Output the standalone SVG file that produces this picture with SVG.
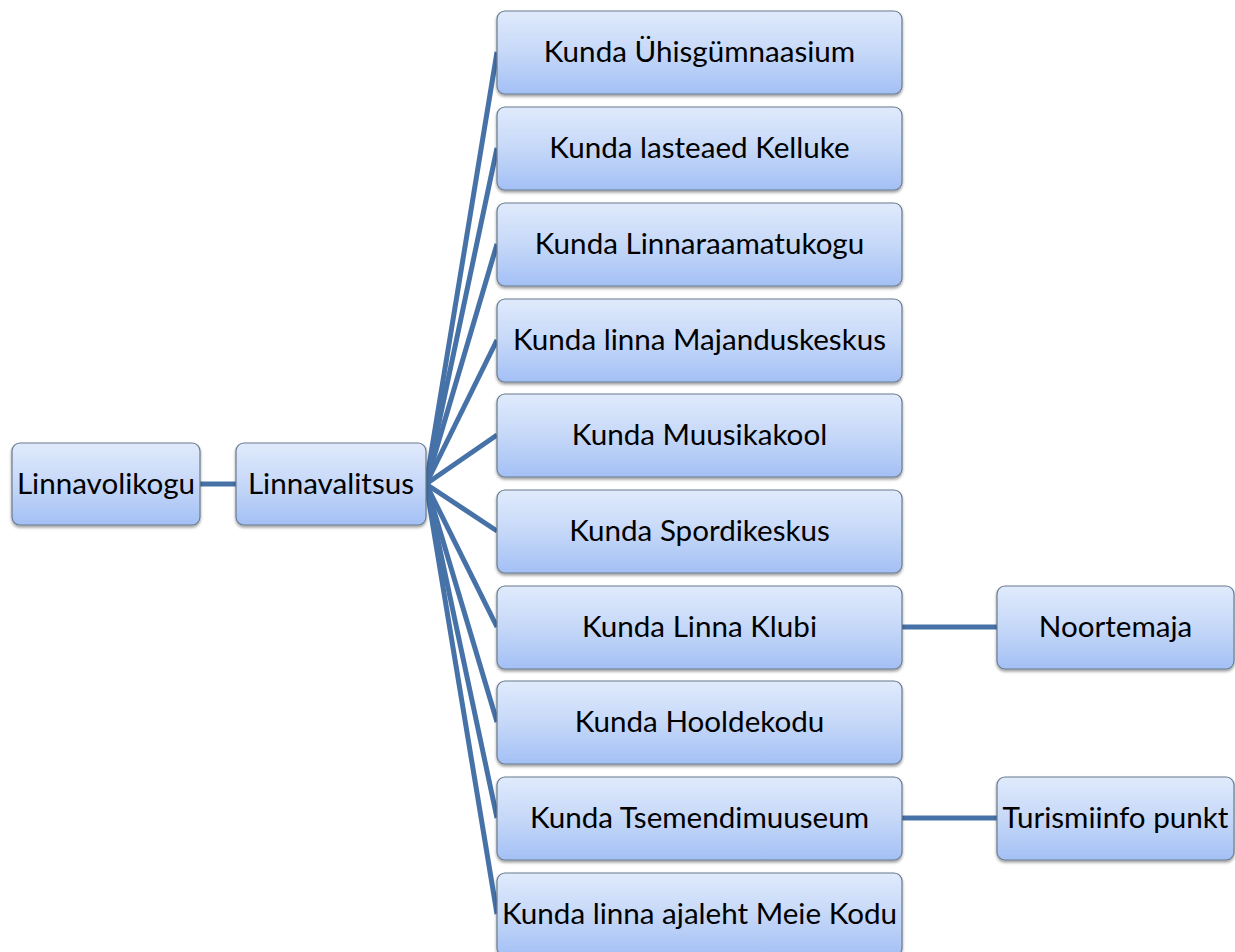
<svg xmlns="http://www.w3.org/2000/svg" width="1235" height="952" viewBox="0 0 1235 952">
<defs>
<linearGradient id="g" x1="0" y1="0" x2="0" y2="1">
<stop offset="0" stop-color="#e0eafc"/>
<stop offset="0.5" stop-color="#c6d8f8"/>
<stop offset="1" stop-color="#a3c0f5"/>
</linearGradient>
<filter id="sh" x="-5%" y="-5%" width="110%" height="120%">
<feGaussianBlur in="SourceAlpha" stdDeviation="1.5"/>
<feOffset dx="0" dy="2" result="b"/>
<feComponentTransfer><feFuncA type="linear" slope="0.4"/></feComponentTransfer>
<feMerge><feMergeNode/><feMergeNode in="SourceGraphic"/></feMerge>
</filter>
</defs>
<style>
.box{fill:url(#g);stroke:#6b7b8f;stroke-width:1.2;filter:url(#sh)}
.t{font-family:Lato,"Open Sans","Liberation Sans",sans-serif;font-size:29.6px;fill:#000;text-anchor:middle;dominant-baseline:central}
.c{stroke:#4672a8;stroke-width:5;fill:none}
</style>
<rect width="1235" height="952" fill="#fff"/>
<g id="connectors">
<line class="c" x1="200" y1="484" x2="236" y2="484"/>
<line class="c" x1="426" y1="484" x2="497" y2="52"/>
<line class="c" x1="426" y1="484" x2="497" y2="148"/>
<line class="c" x1="426" y1="484" x2="497" y2="244"/>
<line class="c" x1="426" y1="484" x2="497" y2="340"/>
<line class="c" x1="426" y1="484" x2="497" y2="435"/>
<line class="c" x1="426" y1="484" x2="497" y2="531"/>
<line class="c" x1="426" y1="484" x2="497" y2="627"/>
<line class="c" x1="426" y1="484" x2="497" y2="722"/>
<line class="c" x1="426" y1="484" x2="497" y2="818"/>
<line class="c" x1="426" y1="484" x2="497" y2="914"/>
<line class="c" x1="902" y1="627" x2="997" y2="627"/>
<line class="c" x1="902" y1="818" x2="997" y2="818"/>
</g>
<g id="n-linnavolikogu"><rect class="box" x="12" y="443" width="188" height="82" rx="8"/><text class="t" x="106" y="482">Linnavolikogu</text></g>
<g id="n-linnavalitsus"><rect class="box" x="236" y="443" width="190" height="82" rx="8"/><text class="t" x="331" y="482">Linnavalitsus</text></g>
<g id="n1"><rect class="box" x="497" y="11" width="405" height="83" rx="8"/><text class="t" x="699.5" y="50">Kunda Ühisgümnaasium</text></g>
<g id="n2"><rect class="box" x="497" y="107" width="405" height="83" rx="8"/><text class="t" x="699.5" y="146">Kunda lasteaed Kelluke</text></g>
<g id="n3"><rect class="box" x="497" y="203" width="405" height="83" rx="8"/><text class="t" x="699.5" y="242">Kunda Linnaraamatukogu</text></g>
<g id="n4"><rect class="box" x="497" y="299" width="405" height="83" rx="8"/><text class="t" x="699.5" y="338">Kunda linna Majanduskeskus</text></g>
<g id="n5"><rect class="box" x="497" y="394" width="405" height="83" rx="8"/><text class="t" x="699.5" y="433">Kunda Muusikakool</text></g>
<g id="n6"><rect class="box" x="497" y="490" width="405" height="83" rx="8"/><text class="t" x="699.5" y="529">Kunda Spordikeskus</text></g>
<g id="n7"><rect class="box" x="497" y="586" width="405" height="83" rx="8"/><text class="t" x="699.5" y="625">Kunda Linna Klubi</text></g>
<g id="n8"><rect class="box" x="497" y="681" width="405" height="83" rx="8"/><text class="t" x="699.5" y="720">Kunda Hooldekodu</text></g>
<g id="n9"><rect class="box" x="497" y="777" width="405" height="83" rx="8"/><text class="t" x="699.5" y="816">Kunda Tsemendimuuseum</text></g>
<g id="n10"><rect class="box" x="497" y="873" width="405" height="83" rx="8"/><text class="t" x="699.5" y="912">Kunda linna ajaleht Meie Kodu</text></g>
<g id="n-noortemaja"><rect class="box" x="997" y="586" width="237" height="83" rx="8"/><text class="t" x="1115.5" y="625">Noortemaja</text></g>
<g id="n-turismiinfo"><rect class="box" x="997" y="777" width="237" height="83" rx="8"/><text class="t" x="1115.5" y="816">Turismiinfo punkt</text></g>
</svg>
